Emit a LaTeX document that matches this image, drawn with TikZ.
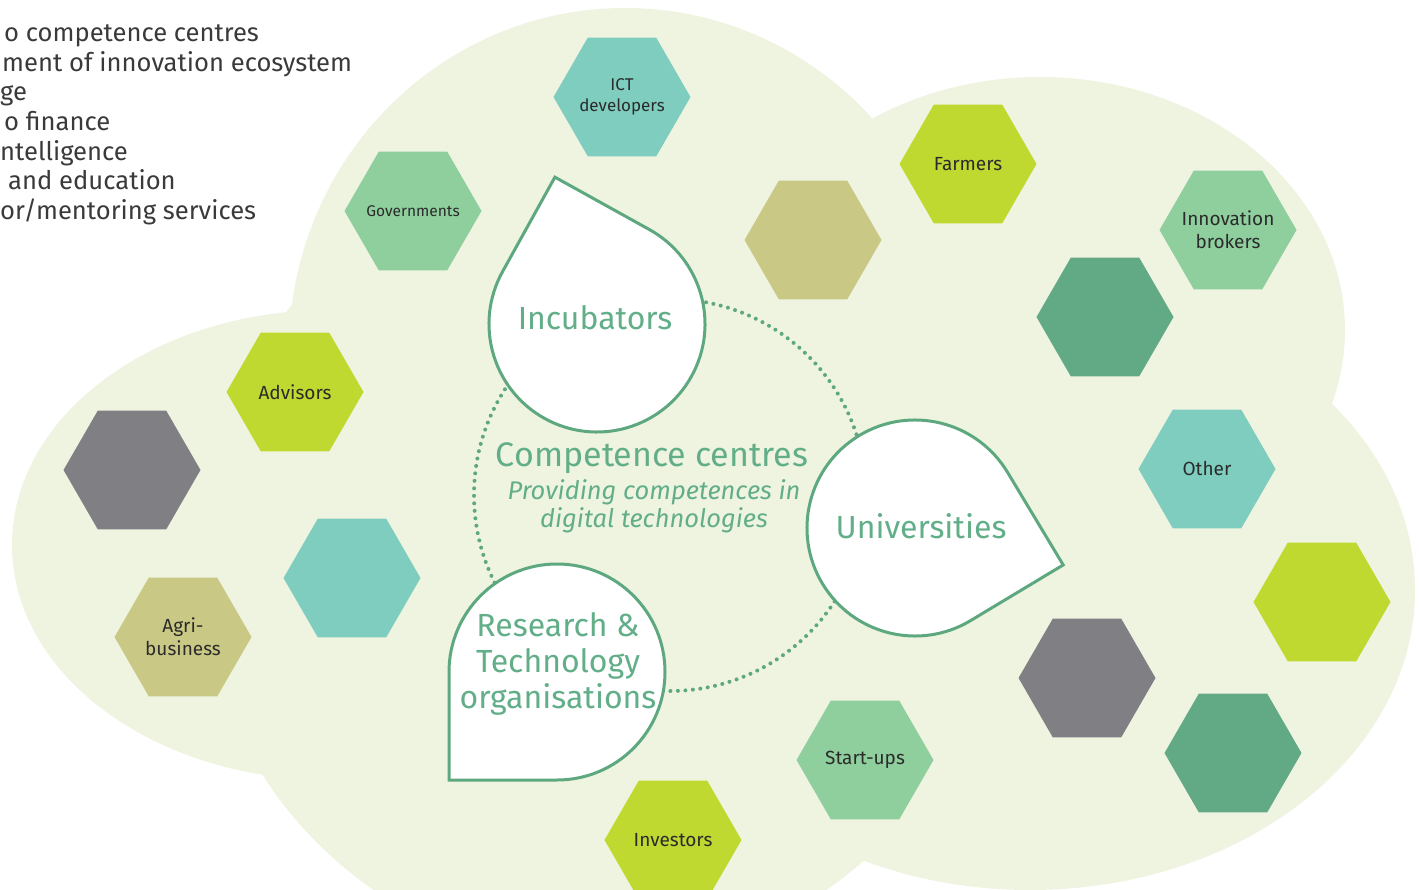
\documentclass[tikz,border=0pt]{standalone}
\usepackage{fontspec}
\setmainfont{Fira Sans}
\usetikzlibrary{shapes.geometric,calc}
\definecolor{cloudbg}{HTML}{EFF4E1}
\definecolor{hexteal}{HTML}{7ECDBF}
\definecolor{hexlight}{HTML}{8FCF9D}
\definecolor{hexlime}{HTML}{C0D931}
\definecolor{hexkhaki}{HTML}{C9C884}
\definecolor{hexdark}{HTML}{62AA86}
\definecolor{hexgray}{HTML}{808084}
\definecolor{hexink}{HTML}{2B2B2B}
\definecolor{dropedge}{HTML}{5EA880}
\definecolor{dropink}{HTML}{62AE88}
\definecolor{listink}{HTML}{3A3A3A}
\tikzset{
  hexbox/.style={regular polygon, regular polygon sides=6, minimum size=137pt,
    inner sep=0pt},
  hexlabel/.style={align=center, text=hexink, inner sep=0pt, font=\fontsize{19}{23}\selectfont},
  droptext/.style={text=dropink, align=center, font=\fontsize{32}{36}\selectfont},
  dropline/.style={draw=dropedge, line width=3pt, fill=white, line join=miter},
  ring/.style={draw=dropedge, line width=4pt, line cap=round, dash pattern=on 0pt off 7.5pt},
  listtext/.style={anchor=base west, inner sep=0pt, text=listink, font=\fontsize{25.6}{30}\selectfont},
}
\begin{document}
\begin{tikzpicture}[x=1pt,y=-1pt]
\useasboundingbox (0,0) rectangle (1419,890);
\clip (0,0) rectangle (1419,890);
\fill[white] (0,0) rectangle (1419,890);
% cloud
\fill[cloudbg] (625,350) ellipse [x radius=336, y radius=342];
\fill[cloudbg] (330,545) ellipse [x radius=318, y radius=235];
\fill[cloudbg] (1040,330) ellipse [x radius=305, y radius=253];
\fill[cloudbg] (1030,590) ellipse [x radius=385, y radius=300];
\fill[cloudbg] (600,560) circle [radius=400];
% list text (cut at the left edge)
\node[listtext] (l1) at (4,42) {o competence centres};
\node[listtext] (l2) at (2,72) {ment of innovation ecosystem};
\node[listtext] (l3) at (0,101) {ge};
\node[listtext] (l4) at (4,131) {o finance};
\node[listtext] (l5) at (0,161) {ntelligence};
\node[listtext] (l6) at (8,190) {and education};
\node[listtext] (l7) at (0,220) {or/mentoring services};
% hexagons
\node[hexbox, fill=hexteal, label={[hexlabel, font=\fontsize{17}{21}\selectfont]center:ICT\\developers}] (ict) at (622,97) {};
\node[hexbox, fill=hexlight, label={[hexlabel, font=\fontsize{15.5}{19}\selectfont]center:Governments}] (gov) at (413,211) {};
\node[hexbox, fill=hexlime, label={[hexlabel]center:Farmers}] (farm) at (968,164) {};
\node[hexbox, fill=hexkhaki] (khakia) at (813,240) {};
\node[hexbox, fill=hexlight, label={[hexlabel]center:Innovation\\brokers}] (innov) at (1228,230) {};
\node[hexbox, fill=hexdark] (darka) at (1105,317) {};
\node[hexbox, fill=hexlime, label={[hexlabel]center:Advisors}] (adv) at (295,392) {};
\node[hexbox, fill=hexgray] (graya) at (132,470) {};
\node[hexbox, fill=hexteal] (teala) at (352,578) {};
\node[hexbox, fill=hexkhaki, label={[hexlabel]center:Agri-\\business}] (agri) at (183,637) {};
\node[hexbox, fill=hexteal, label={[hexlabel]center:Other}] (other) at (1207,469) {};
\node[hexbox, fill=hexlime] (limea) at (1322,602) {};
\node[hexbox, fill=hexgray] (grayb) at (1087,678) {};
\node[hexbox, fill=hexdark] (darkb) at (1233,753) {};
\node[hexbox, fill=hexlight, label={[hexlabel]center:Start-ups}] (start) at (865,760) {};
\node[hexbox, fill=hexlime, label={[hexlabel]center:Investors}] (inv) at (673,840) {};
% dotted ring
\draw[ring] (670,495) circle [radius=196];
% drops
\draw[dropline] ($(597,324)+(-106:152.74)$) -- ($(597,324)+(-61:108)$)
  arc[start angle=-61, end angle=209, radius=108] -- cycle;
\draw[dropline] ($(915,528)+(14:152.74)$) -- ($(915,528)+(59:108)$)
  arc[start angle=59, end angle=329, radius=108] -- cycle;
\draw[dropline] ($(557,672)+(135:152.74)$) -- ($(557,672)+(180:108)$)
  arc[start angle=180, end angle=450, radius=108] -- cycle;
\node[droptext] (incub) at (595,318) {Incubators};
\node[droptext] (univ) at (921,526) {Universities};
\node[droptext] (rto) at (558,664) {Research \&\\Technology\\organisations};
% centre text
\node[text=dropink, font=\fontsize{34}{38}\selectfont] (cc) at (652,458) {Competence centres};
\node[text=dropink, align=center, font=\itshape\fontsize{25.5}{28}\selectfont] (ccsub) at (654,506) {Providing competences in\\digital technologies};
\end{tikzpicture}
\end{document}
